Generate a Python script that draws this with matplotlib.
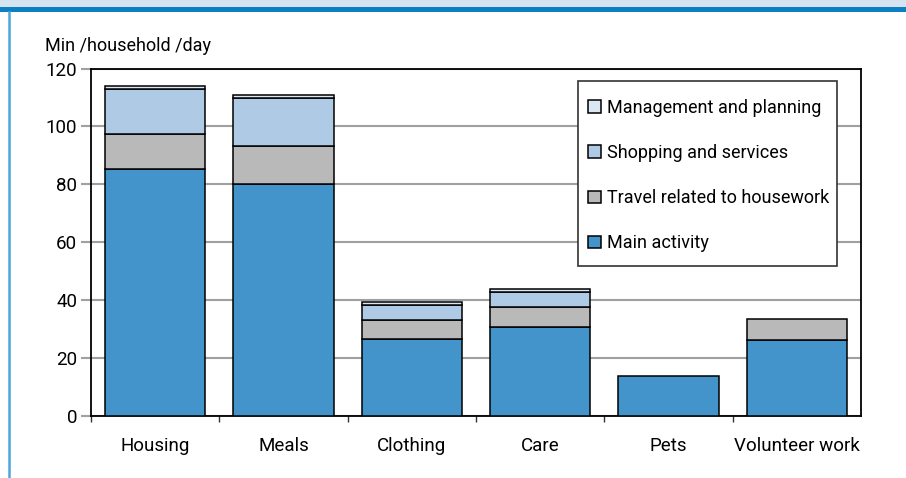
import numpy as np
import matplotlib
matplotlib.use('Agg')
import matplotlib.pyplot as plt
from matplotlib.patches import Rectangle
from matplotlib.lines import Line2D

plt.rcParams['font.family'] = ['Roboto', 'DejaVu Sans']

# data (minutes per household per day)
categories = ['Housing', 'Meals', 'Clothing', 'Care', 'Pets', 'Volunteer work']
main_activity = [85.4, 80.1, 26.7, 30.9, 13.8, 26.2]
travel = [12.0, 13.1, 6.4, 6.7, 0.0, 7.3]
shopping = [15.6, 16.7, 5.2, 5.3, 0.0, 0.0]
management = [1.0, 1.0, 1.0, 1.0, 0.0, 0.0]

series = [
    ('Main activity', main_activity, '#4394cb'),
    ('Travel related to housework', travel, '#b9b9b9'),
    ('Shopping and services', shopping, '#aecae5'),
    ('Management and planning', management, '#dbe8f4'),
]

fig = plt.figure(figsize=(9.06, 4.78), dpi=100)

# header band + left frame line
fig.add_artist(Rectangle((0, 1 - 8/478), 1, 8/478, transform=fig.transFigure,
                         facecolor='#d6e4f1', edgecolor='none'))
fig.add_artist(Rectangle((0, 1 - 12/478), 1, 4.5/478, transform=fig.transFigure,
                         facecolor='#0a80c3', edgecolor='none'))
fig.add_artist(Line2D([8.5/906, 8.5/906], [0, 1 - 12/478], transform=fig.transFigure,
                      color='#4ba7d9', lw=1.8))

ax = fig.add_axes([91/906, 1 - 416/478, 770/906, (416 - 68.5)/478])

x = np.arange(len(categories))
bottom = np.zeros(len(categories))
handles = []
for name, vals, col in series:
    vals = np.array(vals)
    mask = vals > 0
    b = ax.bar(x[mask], vals[mask], bottom=bottom[mask], width=0.78, color=col,
               edgecolor='black', linewidth=1.1, zorder=3, label=name)
    handles.append(b)
    bottom += vals

ax.set_xlim(-0.5, len(categories) - 0.5)
ax.set_ylim(0, 120)
ax.set_yticks(np.arange(0, 121, 20))
ax.yaxis.grid(True, color='#a0a0a0', lw=1.5, zorder=0)
ax.set_axisbelow(True)
ax.tick_params(axis='y', length=7, color='#a0a0a0', width=1.5, labelsize=13.5, pad=3)

ax.set_xticks(x)
ax.set_xticklabels(categories)
ax.tick_params(axis='x', which='major', length=0, labelsize=13.5, pad=15)
ax.set_xticks(np.arange(-0.5, len(categories) - 1, 1), minor=True)
ax.tick_params(axis='x', which='minor', length=4, width=1, color='#333333')

for s in ax.spines.values():
    s.set_linewidth(1.3)
    s.set_color('black')

fig.text(45/906, 1 - 46/478, 'Min /household /day', fontsize=13, va='center', ha='left')

# legend frame drawn separately so its box matches the reference
fig.add_artist(Rectangle((578/906, 1 - 266/478), (837 - 578)/906, (266 - 81)/478,
                         transform=fig.transFigure, facecolor='white',
                         edgecolor='#333333', lw=1.2, zorder=4))
leg = ax.legend(handles=handles[::-1], loc='upper left',
                bbox_to_anchor=(588/906, 1 - 99/478), bbox_transform=fig.transFigure,
                borderaxespad=0, fontsize=13, frameon=False,
                handlelength=0.7, handleheight=0.7,
                handletextpad=0.35, labelspacing=1.5, borderpad=0)
leg.set_zorder(5)
leg.remove()
fig.add_artist(leg)

fig.savefig('out.png', dpi=100)
